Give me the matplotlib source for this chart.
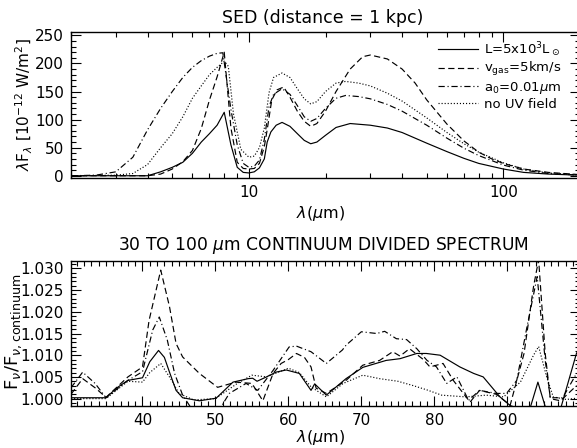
import matplotlib
matplotlib.use("Agg")
import matplotlib.pyplot as plt
from matplotlib.ticker import MultipleLocator, FixedLocator, NullFormatter

# ---------------- Top panel data (SED) ----------------
lam_solid = [2, 3, 4, 4.5, 5, 5.5, 6, 6.5, 7, 7.5, 8.0, 8.5, 9, 9.5, 10, 10.5, 11, 11.5, 11.8, 12.2, 12.8, 13.5,
             14.5, 15.5, 16.5, 17.5, 18.5, 20, 22, 25, 30, 35, 40, 50, 60, 70, 80, 100, 120, 150, 200]
sed_solid = [0, 0, 0, 7, 15, 24, 40, 60, 75, 90, 113, 55, 15, 6, 5, 7, 14, 30, 60, 78, 90, 95,
             88, 75, 63, 57, 60, 72, 86, 93, 90, 85, 77, 58, 43, 31, 22, 12, 6, 3, 1]

lam_dash = [2, 4, 4.5, 5, 5.5, 6, 6.5, 7, 7.5, 8.0, 8.5, 9, 9.5, 10, 10.5, 11, 11.5, 11.8, 12.3, 12.9, 13.7,
            14.5, 15.5, 16.5, 17.5, 18.5, 20, 22, 25, 28, 30, 35, 40, 45, 50, 60, 70, 80, 90, 100, 120, 150, 200]
sed_dash = [0, 0, 3, 12, 25, 45, 84, 135, 176, 220, 85, 24, 13, 12, 13, 22, 52, 82, 135, 153, 158,
            140, 115, 97, 88, 93, 115, 150, 190, 212, 215, 208, 190, 165, 135, 92, 62, 42, 30, 22, 12, 6, 2]

lam_dashdot = [2, 2.5, 3, 3.5, 4, 4.5, 5, 5.5, 6, 6.5, 7, 7.5, 7.9, 8.5, 9, 9.5, 10, 10.5, 11, 11.5, 12, 12.5,
               13.5, 14.5, 15.5, 16.5, 17.5, 18.5, 20, 22, 24, 27, 30, 35, 40, 50, 60, 70, 80, 100, 120, 150, 200]
sed_dashdot = [0, 1, 7, 33, 82, 120, 150, 175, 193, 205, 213, 218, 219, 118, 55, 22, 15, 17, 28, 65, 123, 145,
               155, 145, 125, 105, 97, 102, 120, 138, 143, 141, 137, 127, 115, 90, 67, 49, 36, 19, 10, 4, 1]

lam_dot = [2, 3, 3.5, 4, 4.5, 5, 5.5, 6, 6.5, 7, 7.5, 8, 8.3, 8.7, 9.3, 10, 10.5, 11, 11.5, 12, 12.5, 13.5,
           14.5, 15.5, 16.5, 17.5, 18.5, 20, 22, 24, 27, 30, 35, 40, 50, 60, 70, 80, 100, 120, 150, 200]
sed_dot = [0, 1, 4, 20, 50, 75, 105, 138, 160, 180, 193, 204, 195, 110, 47, 33, 35, 50, 85, 148, 175, 183,
           175, 155, 137, 128, 132, 150, 165, 168, 165, 160, 147, 133, 103, 77, 57, 42, 23, 12, 5, 1.5]

legend_labels = [r'L=5x10$^3$L$_\odot$', r'v$_{\rm gas}$=5km/s', r'a$_0$=0.01$\mu$m', 'no UV field']

# ---------------- Bottom panel data (continuum divided) ----------------
lamb_solid = [30.2, 35.0, 36.5, 38.0, 40.0, 41.0, 42.2, 43.0, 43.7, 44.6, 45.5, 47.8, 50.1, 52.4, 54.5, 55.1,
              55.7, 57.0, 58.3, 59.7, 61.5, 63.1, 63.6, 65.2, 67.9, 70.2, 73.4, 75.3, 77.6, 78.9, 80.8, 83.5,
              85.4, 86.7, 89.0, 90.4, 92.0, 93.2, 94.2, 95.2, 96.5, 97.4, 99.5, 100]
rat_solid = [1.0002, 1.0002, 1.0025, 1.0042, 1.0048, 1.0085, 1.0111, 1.0095, 1.0061, 1.0019, 1.0002, 0.9995,
             1.0001, 1.0038, 1.0046, 1.0047, 1.0040, 1.0050, 1.0061, 1.0066, 1.0058, 1.0019, 1.0034, 1.0008,
             1.0046, 1.0072, 1.0088, 1.0092, 1.0104, 1.0104, 1.0100, 1.0073, 1.0058, 1.0050, 1.0004, 0.9984,
             0.9975, 0.9982, 1.0038, 0.9982, 0.9975, 0.9982, 1.0105, 1.0115]

lamb_dash = [30.2, 31.8, 33.5, 35.0, 38.0, 40.0, 40.9, 42.5, 43.7, 44.6, 45.5, 47.8, 50.3, 52.8, 55.0, 56.5,
             57.9, 59.0, 60.0, 61.1, 62.2, 63.1, 63.8, 65.2, 67.9, 70.2, 72.5, 74.3, 75.3, 76.6, 78.5, 79.4,
             81.2, 82.6, 84.9, 86.2, 88.5, 90.4, 92.3, 93.6, 94.3, 95.2, 95.9, 97.3, 99.5]
rat_dash = [1.0010, 1.0046, 1.0025, 1.0003, 1.0050, 1.0073, 1.0180, 1.0296, 1.0212, 1.0127, 1.0096, 1.0058,
            1.0026, 1.0038, 1.0035, 0.9995, 1.0058, 1.0081, 1.0090, 1.0104, 1.0095, 1.0073, 1.0024, 1.0012,
            1.0042, 1.0077, 1.0088, 1.0108, 1.0098, 1.0115, 1.0090, 1.0073, 1.0081, 1.0042, 0.9992, 1.0019,
            1.0010, 0.9985, 1.0104, 1.0258, 1.0320, 1.0104, 1.0000, 0.9995, 1.0030]

lamb_dashdot = [30.2, 31.8, 33.5, 35.0, 38.0, 40.0, 41.4, 42.3, 43.4, 44.4, 45.5, 46.8, 50.0, 51.9, 54.2, 55.8,
                57.9, 60.1, 61.1, 63.1, 65.2, 67.4, 67.9, 70.0, 72.1, 73.2, 74.8, 76.2, 77.6, 79.0, 80.3, 81.7,
                83.1, 84.7, 86.2, 88.5, 89.9, 91.3, 92.7, 94.1, 95.2, 95.9, 97.6, 99.5]
rat_dashdot = [1.0025, 1.0061, 1.0035, 1.0002, 1.0042, 1.0062, 1.0158, 1.0188, 1.0135, 1.0058, 1.0008, 0.9975,
               0.9960, 1.0012, 1.0035, 1.0019, 1.0065, 1.0119, 1.0121, 1.0108, 1.0081, 1.0112, 1.0123, 1.0154,
               1.0150, 1.0155, 1.0138, 1.0136, 1.0115, 1.0088, 1.0073, 1.0035, 1.0050, 0.9996, 1.0019, 1.0012,
               1.0012, 1.0042, 1.0165, 1.0281, 1.0088, 1.0002, 1.0002, 1.0058]

lamb_dot = [30.2, 35.0, 38.0, 40.0, 41.0, 42.5, 44.0, 45.0, 47.0, 50.0, 53.0, 55.0, 57.0, 60.0, 61.5, 63.1,
            65.2, 67.5, 70.2, 72.5, 75.0, 77.1, 79.0, 81.0, 84.3, 87.1, 89.5, 91.8, 93.6, 94.3, 95.4, 96.3,
            98.1, 100]
rat_dot = [1.0000, 1.0000, 1.0040, 1.0038, 1.0060, 1.0081, 1.0042, 1.0012, 0.9997, 1.0000, 1.0035, 1.0054,
           1.0050, 1.0070, 1.0060, 1.0027, 1.0004, 1.0035, 1.0054, 1.0046, 1.0040, 1.0030, 1.0020, 1.0008,
           1.0004, 1.0008, 1.0004, 1.0038, 1.0100, 1.0120, 1.0050, 1.0004, 0.9998, 1.0002]

top_title = 'SED (distance = 1 kpc)'
bottom_title = r'30 TO 100 $\mu$m CONTINUUM DIVIDED SPECTRUM'
xlab = r'$\lambda$($\mu$m)'
ylab_top = r'$\lambda$F$_\lambda$ [10$^{-12}$ W/m$^2$]'
ylab_bot = r'F$_\nu$/F$_{\nu\rm ,continuum}$'

# ---------------- Figure ----------------
plt.rcParams['font.family'] = ['DejaVu Sans']
plt.rcParams['lines.scale_dashes'] = False
W, H = 577, 448
fig = plt.figure(figsize=(W / 100, H / 100), dpi=100)

def frac_axes(l, t, r, b):
    return fig.add_axes([l / W, 1 - b / H, (r - l) / W, (b - t) / H])

ax1 = frac_axes(71, 32, 580, 178)
ax2 = frac_axes(71, 261, 580, 406)

styles = [dict(ls='-'), dict(ls=(0, (4.5, 2.5))), dict(ls=(0, (4.5, 2, 0.8, 2))), dict(ls=(0, (0.8, 1.4)))]
lw = 0.85

top_sets = [(lam_solid, sed_solid), (lam_dash, sed_dash), (lam_dashdot, sed_dashdot), (lam_dot, sed_dot)]
for (x, y), st, lab in zip(top_sets, styles, legend_labels):
    ax1.plot(x, y, color='black', lw=lw, label=lab, **st)
ax1.set_xscale('log')
ax1.set_xlim(2, 200)
ax1.set_ylim(-4, 256)
ax1.xaxis.set_major_locator(FixedLocator([10, 100]))
ax1.xaxis.set_minor_locator(FixedLocator([2, 3, 4, 5, 6, 7, 8, 9, 20, 30, 40, 50, 60, 70, 80, 90, 200]))
ax1.xaxis.set_minor_formatter(NullFormatter())
ax1.set_xticklabels(['10', '100'])
ax1.yaxis.set_major_locator(MultipleLocator(50))
ax1.yaxis.set_minor_locator(MultipleLocator(10))

bot_sets = [(lamb_solid, rat_solid), (lamb_dash, rat_dash), (lamb_dashdot, rat_dashdot), (lamb_dot, rat_dot)]
for (x, y), st in zip(bot_sets, styles):
    ax2.plot(x, y, color='black', lw=lw, **st)
ax2.set_xlim(30.2, 99.97)
ax2.set_ylim(0.9983, 1.0317)
ax2.xaxis.set_major_locator(MultipleLocator(10))
ax2.xaxis.set_minor_locator(MultipleLocator(1))
ax2.yaxis.set_major_locator(MultipleLocator(0.005))
ax2.yaxis.set_minor_locator(MultipleLocator(0.001))
ax2.yaxis.set_major_formatter(matplotlib.ticker.FormatStrFormatter('%.3f'))

for ax in (ax1, ax2):
    ax.tick_params(which='both', direction='in', top=True, right=True, width=0.8, labelsize=11, pad=5)
    ax.tick_params(which='major', length=7)
    ax.tick_params(which='minor', length=3.5)
    for s in ax.spines.values():
        s.set_linewidth(1.0)

leg = ax1.legend(loc='upper right', frameon=False, fontsize=9.5, handlelength=3.0, handletextpad=0.5,
                 labelspacing=0.12, borderaxespad=0.0, bbox_to_anchor=(0.975, 0.98))

fig.text(323 / W, 1 - 18 / H, top_title, ha='center', va='center', fontsize=12.5)
fig.text(323 / W, 1 - 245 / H, bottom_title, ha='center', va='center', fontsize=12.3)
fig.text(321 / W, 1 - 213 / H, xlab, ha='center', va='center', fontsize=11.5)
fig.text(321 / W, 1 - 437 / H, xlab, ha='center', va='center', fontsize=11.5)
fig.text(24 / W, 1 - 105 / H, ylab_top, ha='center', va='center', rotation=90, fontsize=11)
fig.text(14 / W, 1 - 332 / H, ylab_bot, ha='center', va='center', rotation=90, fontsize=13)

fig.savefig('out.png', dpi=100)
